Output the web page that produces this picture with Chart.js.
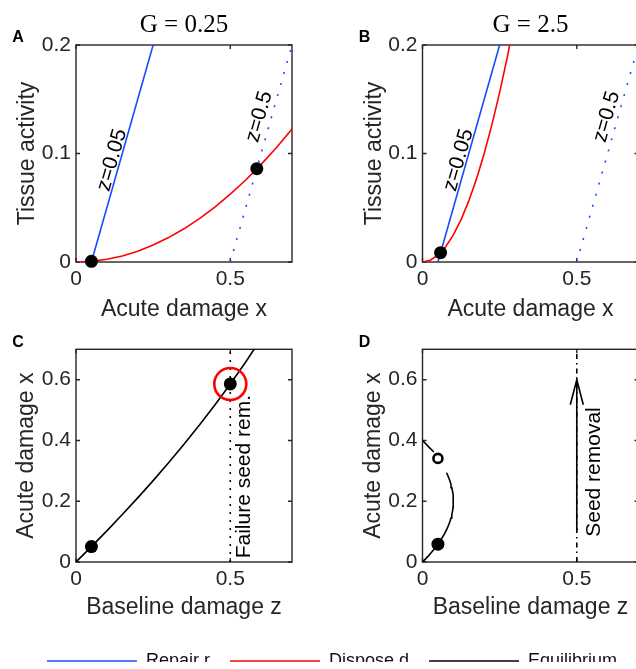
<!DOCTYPE html>
<html><head><meta charset="utf-8">
<script src="https://cdn.jsdelivr.net/npm/chart.js@4/dist/chart.umd.min.js"></script>
<style>
html,body{margin:0;padding:0;background:#fff;width:636px;height:669px;overflow:hidden;position:relative}
canvas{position:absolute;display:block}
</style></head><body>
<canvas id="cA" width="318" height="330" style="left:0;top:0"></canvas>
<canvas id="cB" width="340" height="330" style="left:318px;top:0"></canvas>
<canvas id="cC" width="318" height="310" style="left:0;top:330px"></canvas>
<canvas id="cD" width="340" height="310" style="left:318px;top:330px"></canvas>
<canvas id="cL" width="686" height="60" style="left:-11px;top:632px"></canvas>
<script>
// ---------- data ----------
const xTicks = [0, 0.5];
const yTicksTop = [0, 0.1, 0.2];
const yTicksBottom = [0, 0.2, 0.4, 0.6];

// Panel A (G = 0.25)
const repairLowX = [0.05, 0.25];
const repairLowY = [0, 0.2];
const repairHighX = [0.5, 0.7];
const repairHighY = [0, 0.2];
const disposeX_A = [0, 0.05, 0.1, 0.15, 0.2, 0.25, 0.3, 0.35, 0.4, 0.45, 0.5, 0.55, 0.6, 0.65, 0.7];
const disposeY_A = [0, 0.0006, 0.0025, 0.0056, 0.01, 0.0156, 0.0225, 0.0306, 0.04, 0.0506, 0.0625, 0.0756, 0.09, 0.1056, 0.1225];
const eqPtX_A = [0.05, 0.586];
const eqPtY_A = [0.0006, 0.086];

// Panel B (G = 2.5)
const disposeX_B = [0, 0.025, 0.05, 0.075, 0.1, 0.125, 0.15, 0.175, 0.2, 0.225, 0.25, 0.275, 0.3];
const disposeY_B = [0, 0.0016, 0.0063, 0.0141, 0.025, 0.0391, 0.0563, 0.0766, 0.1, 0.1266, 0.1563, 0.1891, 0.225];
const eqPtX_B = [0.0586];
const eqPtY_B = [0.0086];

// Panel C (equilibrium vs baseline damage, G = 0.25)
const eqZ_C = [0, 0.05, 0.1, 0.15, 0.2, 0.25, 0.3, 0.35, 0.4, 0.45, 0.5, 0.55, 0.6];
const eqX_C = [0, 0.0506, 0.1026, 0.1561, 0.2111, 0.2679, 0.3267, 0.3875, 0.4508, 0.5168, 0.5858, 0.6584, 0.7351];
const stableZ_C = [0.05, 0.5];
const stableX_C = [0.0506, 0.586];
const failZ_C = [0.5];
const failX_C = [0.586];
const seedLineZ = [0.5, 0.5];
const seedLineX = [0, 0.7];

// Panel D (equilibrium vs baseline damage, G = 2.5)
const eqZ_D = [0, 0.01, 0.02, 0.03, 0.04, 0.05, 0.06, 0.07, 0.08, 0.085, 0.09, 0.0925, 0.095, 0.0975, 0.099, 0.1, 0.099, 0.0975, 0.095, 0.0925, 0.09, 0.085, 0.08, 0.078];
const eqX_D = [0, 0.0103, 0.0211, 0.0327, 0.0451, 0.0586, 0.0735, 0.0905, 0.1106, 0.1225, 0.1368, 0.1452, 0.1553, 0.1684, 0.18, 0.2, 0.22, 0.2316, 0.2447, 0.2548, 0.2633, 0.2775, 0.2894, 0.2938];
const eqTopZ_D = [0.037, 0.02, 0.01, 0];
const eqTopX_D = [0.362, 0.3789, 0.3897, 0.4];
const stableZ_D = [0.05];
const stableX_D = [0.0586];
const unstableZ_D = [0.05];
const unstableX_D = [0.341];
const arrowZ = [0.5, 0.5];
const arrowX = [0.1, 0.6];

const legendLabels = ['Repair r', 'Dispose d', 'Equilibrium'];

// ---------- style ----------
const FONT = '"Liberation Sans", Arial, Helvetica, sans-serif';
const AXIS_COL = '#262626';
const BLUE = '#1a4bff';
const RED = '#ff0000';
const BLACK = '#000000';
const legendColors = [BLUE, RED, BLACK];

const pts = (xs, ys) => xs.map((x, i) => ({x: x, y: ys[i]}));

function lineDs(xs, ys, color, dash, order) {
  return {data: pts(xs, ys), showLine: true, borderColor: color, backgroundColor: color,
    borderWidth: 1.6, borderDash: dash || [], pointRadius: 0, fill: false, tension: 0, order: order || 2};
}
function dotDs(xs, ys, opts) {
  return Object.assign({data: pts(xs, ys), showLine: false, pointRadius: 6.5, pointBorderWidth: 0,
    pointBackgroundColor: BLACK, pointBorderColor: BLACK, clip: false, order: 0}, opts || {});
}

const deco = {
  id: 'deco',
  beforeDatasetsDraw(chart, args, o) {
    const {ctx, chartArea: a} = chart;
    const x = chart.scales.x, y = chart.scales.y;
    ctx.save();
    ctx.strokeStyle = AXIS_COL; ctx.lineWidth = 1.4;
    ctx.strokeRect(a.left, a.top, a.right - a.left, a.bottom - a.top);
    const L = 4;
    ctx.beginPath();
    x.ticks.forEach(t => { const px = x.getPixelForValue(t.value);
      ctx.moveTo(px, a.bottom); ctx.lineTo(px, a.bottom - L);
      ctx.moveTo(px, a.top); ctx.lineTo(px, a.top + L); });
    y.ticks.forEach(t => { const py = y.getPixelForValue(t.value);
      ctx.moveTo(a.left, py); ctx.lineTo(a.left + L, py);
      ctx.moveTo(a.right, py); ctx.lineTo(a.right - L, py); });
    ctx.stroke();
    ctx.restore();
  },
  afterDatasetsDraw(chart, args, o) {
    const {ctx} = chart;
    const x = chart.scales.x, y = chart.scales.y;
    ctx.save();
    (o.texts || []).forEach(t => {
      const px = x.getPixelForValue(t.x), py = y.getPixelForValue(t.y);
      let ang = t.angle || 0;
      if (t.along) {
        const x0 = x.getPixelForValue(t.along[0][0]), y0 = y.getPixelForValue(t.along[1][0]);
        const x1 = x.getPixelForValue(t.along[0][1]), y1 = y.getPixelForValue(t.along[1][1]);
        ang = Math.atan2(y1 - y0, x1 - x0);
      }
      ctx.save();
      ctx.translate(px, py); ctx.rotate(ang);
      ctx.font = '21px ' + FONT; ctx.fillStyle = BLACK;
      ctx.textAlign = t.align || 'center'; ctx.textBaseline = 'middle';
      ctx.fillText(t.text, 0, 0);
      ctx.restore();
    });
    if (o.arrowTip) {
      const px = x.getPixelForValue(o.arrowTip[0]), py = y.getPixelForValue(o.arrowTip[1]);
      ctx.strokeStyle = BLACK; ctx.lineWidth = 1.6;
      ctx.beginPath();
      ctx.moveTo(px - 6.5, py + 25); ctx.lineTo(px, py); ctx.lineTo(px + 6.5, py + 25);
      ctx.stroke();
    }
    ctx.restore();
  },
  afterDraw(chart, args, o) {
    const {ctx, chartArea: a} = chart;
    ctx.save();
    if (o.letter) {
      ctx.font = 'bold 16px ' + FONT; ctx.fillStyle = BLACK;
      ctx.textAlign = 'center'; ctx.textBaseline = 'middle';
      ctx.fillText(o.letter, a.left - 58, a.top - 7);
    }
    if (o.title) {
      ctx.font = '25px "Liberation Serif", "Times New Roman", serif'; ctx.fillStyle = BLACK;
      ctx.textAlign = 'center'; ctx.textBaseline = 'alphabetic';
      ctx.fillText(o.title, (a.left + a.right) / 2, a.top - 13);
    }
    ctx.restore();
  }
};

function scales(yMax, yTicks, xTitle, yTitle, yWidth, xHeight, yTitlePad, xTitlePad) {
  return {
    x: {type: 'linear', min: 0, max: 0.7, grid: {display: false, drawTicks: false}, border: {display: false},
      afterBuildTicks: s => { s.ticks = xTicks.map(v => ({value: v})); },
      afterFit: s => { s.height = xHeight; },
      ticks: {font: {family: FONT, size: 21}, color: AXIS_COL, padding: 5, maxRotation: 0, autoSkip: false, callback: v => String(v)},
      title: {display: true, text: xTitle, font: {family: FONT, size: 23}, color: AXIS_COL, padding: {top: 0, bottom: xTitlePad}}},
    y: {type: 'linear', min: 0, max: yMax, grid: {display: false, drawTicks: false}, border: {display: false},
      afterBuildTicks: s => { s.ticks = yTicks.map(v => ({value: v})); },
      afterFit: s => { s.width = yWidth; },
      ticks: {font: {family: FONT, size: 21}, color: AXIS_COL, padding: 5, autoSkip: false, callback: v => String(v)},
      title: {display: true, text: yTitle, font: {family: FONT, size: 23}, color: AXIS_COL, padding: {top: yTitlePad, bottom: 0}}}
  };
}

function makeChart(id, datasets, sc, pad, decoOpts) {
  return new Chart(document.getElementById(id), {
    type: 'scatter',
    data: {datasets: datasets},
    options: {responsive: false, animation: false, events: [],
      layout: {padding: pad},
      scales: sc,
      plugins: {legend: {display: false}, tooltip: {enabled: false}, deco: decoOpts}},
    plugins: [deco]
  });
}

const DOT = [2, 9.5];

// A
makeChart('cA', [
  dotDs(eqPtX_A, eqPtY_A),
  lineDs(repairLowX, repairLowY, BLUE, null, 2),
  lineDs(repairHighX, repairHighY, BLUE, DOT, 3),
  lineDs(disposeX_A, disposeY_A, RED, null, 1)
], scales(0.2, yTicksTop, 'Acute damage x', 'Tissue activity', 76, 68, 14, 7),
  {left: 0, top: 45, right: 26, bottom: 0},
  {letter: 'A', title: 'G = 0.25', texts: [
    {text: 'z=0.05', x: 0.117, y: 0.094, along: [repairLowX, repairLowY]},
    {text: 'z=0.5', x: 0.594, y: 0.134, along: [repairHighX, repairHighY]}]});

// B
makeChart('cB', [
  dotDs(eqPtX_B, eqPtY_B),
  lineDs(repairLowX, repairLowY, BLUE, null, 2),
  lineDs(repairHighX, repairHighY, BLUE, DOT, 3),
  lineDs(disposeX_B, disposeY_B, RED, null, 1)
], scales(0.2, yTicksTop, 'Acute damage x', 'Tissue activity', 104.5, 68, 43, 7),
  {left: 0, top: 45, right: 19.5, bottom: 0},
  {letter: 'B', title: 'G = 2.5', texts: [
    {text: 'z=0.05', x: 0.117, y: 0.094, along: [repairLowX, repairLowY]},
    {text: 'z=0.5', x: 0.597, y: 0.134, along: [repairHighX, repairHighY]}]});

// C
makeChart('cC', [
  dotDs(failZ_C, failX_C, {pointRadius: 16, pointBorderWidth: 2.6, pointBackgroundColor: 'rgba(0,0,0,0)', pointBorderColor: RED, order: -1}),
  dotDs(stableZ_C, stableX_C),
  lineDs(eqZ_C, eqX_C, BLACK, null, 1),
  lineDs(seedLineZ, seedLineX, BLACK, [2, 6], 2)
], scales(0.7, yTicksBottom, 'Baseline damage z', 'Acute damage x', 76, 78, 12.5, 18.5),
  {left: 0, top: 19.3, right: 26, bottom: 0},
  {letter: 'C', texts: [
    {text: 'Failure seed rem.', x: 0.545, y: 0.012, angle: -Math.PI / 2, align: 'left'}]});

// D
makeChart('cD', [
  dotDs(stableZ_D, stableX_D),
  dotDs(unstableZ_D, unstableX_D, {pointRadius: 4.5, pointBorderWidth: 2.6, pointBackgroundColor: '#ffffff', pointBorderColor: BLACK}),
  lineDs(eqZ_D, eqX_D, BLACK, null, 1),
  lineDs(eqTopZ_D, eqTopX_D, BLACK, null, 1),
  lineDs(seedLineZ, seedLineX, BLACK, [5, 4, 1.5, 4], 3),
  lineDs(arrowZ, arrowX, BLACK, null, 2)
], scales(0.7, yTicksBottom, 'Baseline damage z', 'Acute damage x', 104.5, 78, 41.5, 18.5),
  {left: 0, top: 19.3, right: 19.5, bottom: 0},
  {letter: 'D', arrowTip: [arrowZ[1], arrowX[1]], texts: [
    {text: 'Seed removal', x: 0.555, y: 0.083, angle: -Math.PI / 2, align: 'left'}]});

// Legend
new Chart(document.getElementById('cL'), {
  type: 'scatter',
  data: {datasets: legendLabels.map((l, i) => ({label: l, data: [], borderColor: legendColors[i], backgroundColor: legendColors[i], borderWidth: 1.6, pointStyle: 'line'}))},
  options: {responsive: false, animation: false, events: [],
    layout: {padding: 0},
    scales: {x: {display: false}, y: {display: false}},
    plugins: {tooltip: {enabled: false},
      legend: {display: true, position: 'top',
        labels: {usePointStyle: true, pointStyle: 'line', pointStyleWidth: 90, boxHeight: 18, padding: 20, color: '#111', font: {family: FONT, size: 18}}}}}
});
</script>
</body></html>
